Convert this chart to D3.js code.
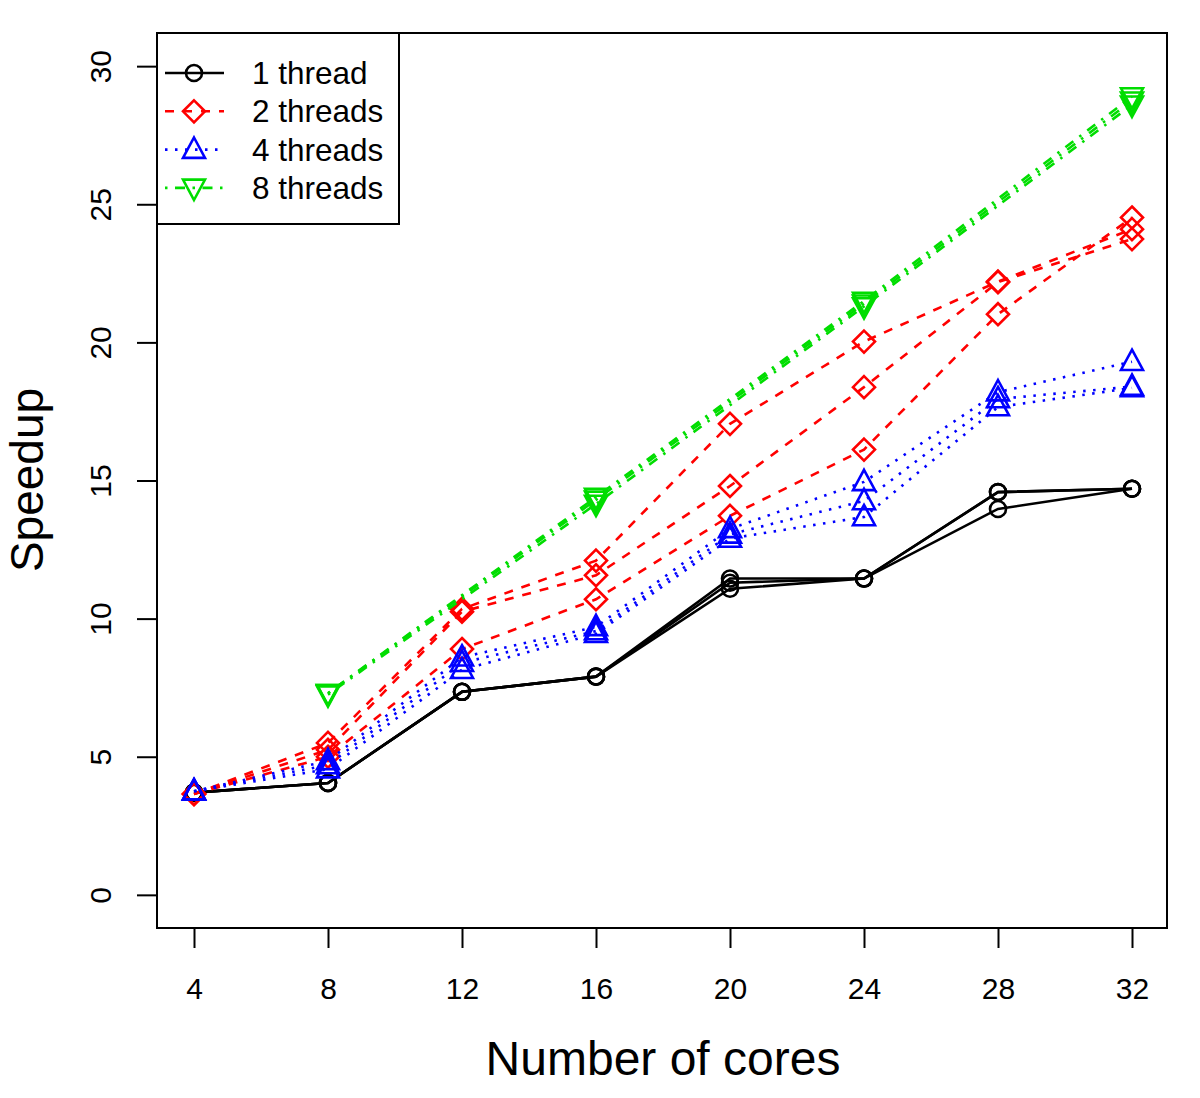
<!DOCTYPE html>
<html><head><meta charset="utf-8">
<script src="https://cdn.jsdelivr.net/npm/d3@7"></script>
<style>body{margin:0;background:#fff}svg{display:block}text{font-family:"Liberation Sans",Arial,sans-serif;fill:#000}</style>
</head><body>
<script>
const cores = [4, 8, 12, 16, 20, 24, 28, 32];
const cores8 = [8, 16, 24, 32];
const xTicks = [4, 8, 12, 16, 20, 24, 28, 32];
const yTicks = [0, 5, 10, 15, 20, 25, 30];
const legendLabels = ["1 thread", "2 threads", "4 threads", "8 threads"];

// three runs per thread count
const thread1 = [
  [3.7, 4.05, 7.35, 7.9, 11.45, 11.45, 14.58, 14.7],
  [3.7, 4.05, 7.35, 7.9, 11.3, 11.45, 14.58, 14.7],
  [3.7, 4.05, 7.35, 7.9, 11.08, 11.45, 13.97, 14.7]
];
const thread2 = [
  [3.65, 5.5, 10.35, 12.1, 17.05, 20.03, 22.2, 24.1],
  [3.65, 5.25, 10.25, 11.57, 14.8, 18.38, 22.18, 23.74],
  [3.65, 5.0, 8.9, 10.7, 13.72, 16.12, 21.02, 24.52]
];
const thread4 = [
  [3.75, 4.85, 8.6, 9.7, 13.25, 14.95, 18.2, 19.3],
  [3.75, 4.7, 8.4, 9.55, 13.05, 14.26, 17.95, 18.4],
  [3.75, 4.55, 8.15, 9.45, 12.9, 13.68, 17.66, 18.35]
];
const thread8 = [
  [7.3, 14.4, 21.5, 28.9],
  [7.3, 14.3, 21.4, 28.75],
  [7.25, 14.15, 21.3, 28.6]
];

const W = 1200, H = 1098;
const L = 157, R = 1167, T = 33, B = 928;
const svg = d3.select("body").append("svg").attr("width", W).attr("height", H);
const x = d3.scaleLinear().domain([4, 32]).range([194, 1132]);
const y = d3.scaleLinear().domain([-1.2, 31.2]).range([B, T]);

const lw = 2.6;
const styles = [
  {color: "#000000", dash: null, shape: "circle"},
  {color: "#FF0000", dash: "9,9", shape: "diamond"},
  {color: "#0000FF", dash: "2.5,7.5", shape: "up"},
  {color: "#00DD00", dash: "2.5,7.5,10,7.5", shape: "down"}
];

function marker(g, shape, cx, cy, color) {
  if (shape === "circle") {
    g.append("circle").attr("cx", cx).attr("cy", cy).attr("r", 8)
      .attr("fill", "none").attr("stroke", color).attr("stroke-width", lw);
  } else {
    let pts;
    const s = 11;
    if (shape === "diamond") pts = [[0,-s],[s,0],[0,s],[-s,0]];
    else if (shape === "up") pts = [[0,-s*1.1],[s,s*0.75],[-s,s*0.75]];
    else pts = [[0,s*1.1],[s,-s*0.75],[-s,-s*0.75]];
    g.append("polygon").attr("points", pts.map(p => [cx + p[0], cy + p[1]].join(",")).join(" "))
      .attr("fill", "none").attr("stroke", color).attr("stroke-width", lw);
  }
}

const groups = [
  {xs: cores, runs: thread1, st: styles[0]},
  {xs: cores, runs: thread2, st: styles[1]},
  {xs: cores, runs: thread4, st: styles[2]},
  {xs: cores8, runs: thread8, st: styles[3]}
];
const plot = svg.append("g");
const line = d3.line().x(d => x(d[0])).y(d => y(d[1]));
groups.forEach(gr => {
  gr.runs.forEach(run => {
    const pts = gr.xs.map((c, i) => [c, run[i]]);
    plot.append("path").attr("d", line(pts)).attr("fill", "none")
      .attr("stroke", gr.st.color).attr("stroke-width", lw)
      .attr("stroke-dasharray", gr.st.dash);
    pts.forEach(p => marker(plot, gr.st.shape, x(p[0]), y(p[1]), gr.st.color));
  });
});

// box
svg.append("rect").attr("x", L).attr("y", T).attr("width", R - L).attr("height", B - T)
  .attr("fill", "none").attr("stroke", "#000").attr("stroke-width", 2);

// x axis
const xa = svg.append("g").attr("transform", `translate(0,${B})`)
  .call(d3.axisBottom(x).tickValues(xTicks).tickSize(20).tickPadding(30).tickFormat(d3.format("d")));
xa.select(".domain").attr("d", `M${x(4)},0H${x(32)}`).attr("stroke-width", 2);
xa.selectAll(".tick line").attr("stroke-width", 2);
xa.selectAll("text").attr("font-size", 30).attr("font-family", "Liberation Sans, Arial, sans-serif");

// y axis
const ya = svg.append("g").attr("transform", `translate(${L},0)`)
  .call(d3.axisLeft(y).tickValues(yTicks).tickSize(20).tickPadding(0).tickFormat(d3.format("d")));
ya.select(".domain").attr("d", `M0,${y(0)}V${y(30)}`).attr("stroke-width", 2);
ya.selectAll(".tick line").attr("stroke-width", 2);
ya.selectAll("text").attr("font-size", 30).attr("font-family", "Liberation Sans, Arial, sans-serif")
  .attr("x", 0).attr("dy", null).attr("text-anchor", "middle")
  .attr("transform", "translate(-57,0) rotate(-90)").attr("y", 11);

// axis titles
svg.append("text").attr("x", 663).attr("y", 1075).attr("text-anchor", "middle")
  .attr("font-size", 48).text("Number of cores");
svg.append("text").attr("transform", `translate(42.5,480) rotate(-90)`)
  .attr("text-anchor", "middle").attr("font-size", 46).text("Speedup");

// legend
const lg = svg.append("g");
lg.append("rect").attr("x", L).attr("y", T).attr("width", 242).attr("height", 191)
  .attr("fill", "#fff").attr("stroke", "#000").attr("stroke-width", 2);
legendLabels.forEach((lab, i) => {
  const st = styles[i];
  const yy = 73 + i * 38.3;
  lg.append("line").attr("x1", 165).attr("x2", 224).attr("y1", yy).attr("y2", yy)
    .attr("stroke", st.color).attr("stroke-width", lw).attr("stroke-dasharray", st.dash);
  marker(lg, st.shape, 194, yy, st.color);
  lg.append("text").attr("x", 252).attr("y", yy + 11).attr("font-size", 31.5).text(lab);
});
</script>
</body></html>
